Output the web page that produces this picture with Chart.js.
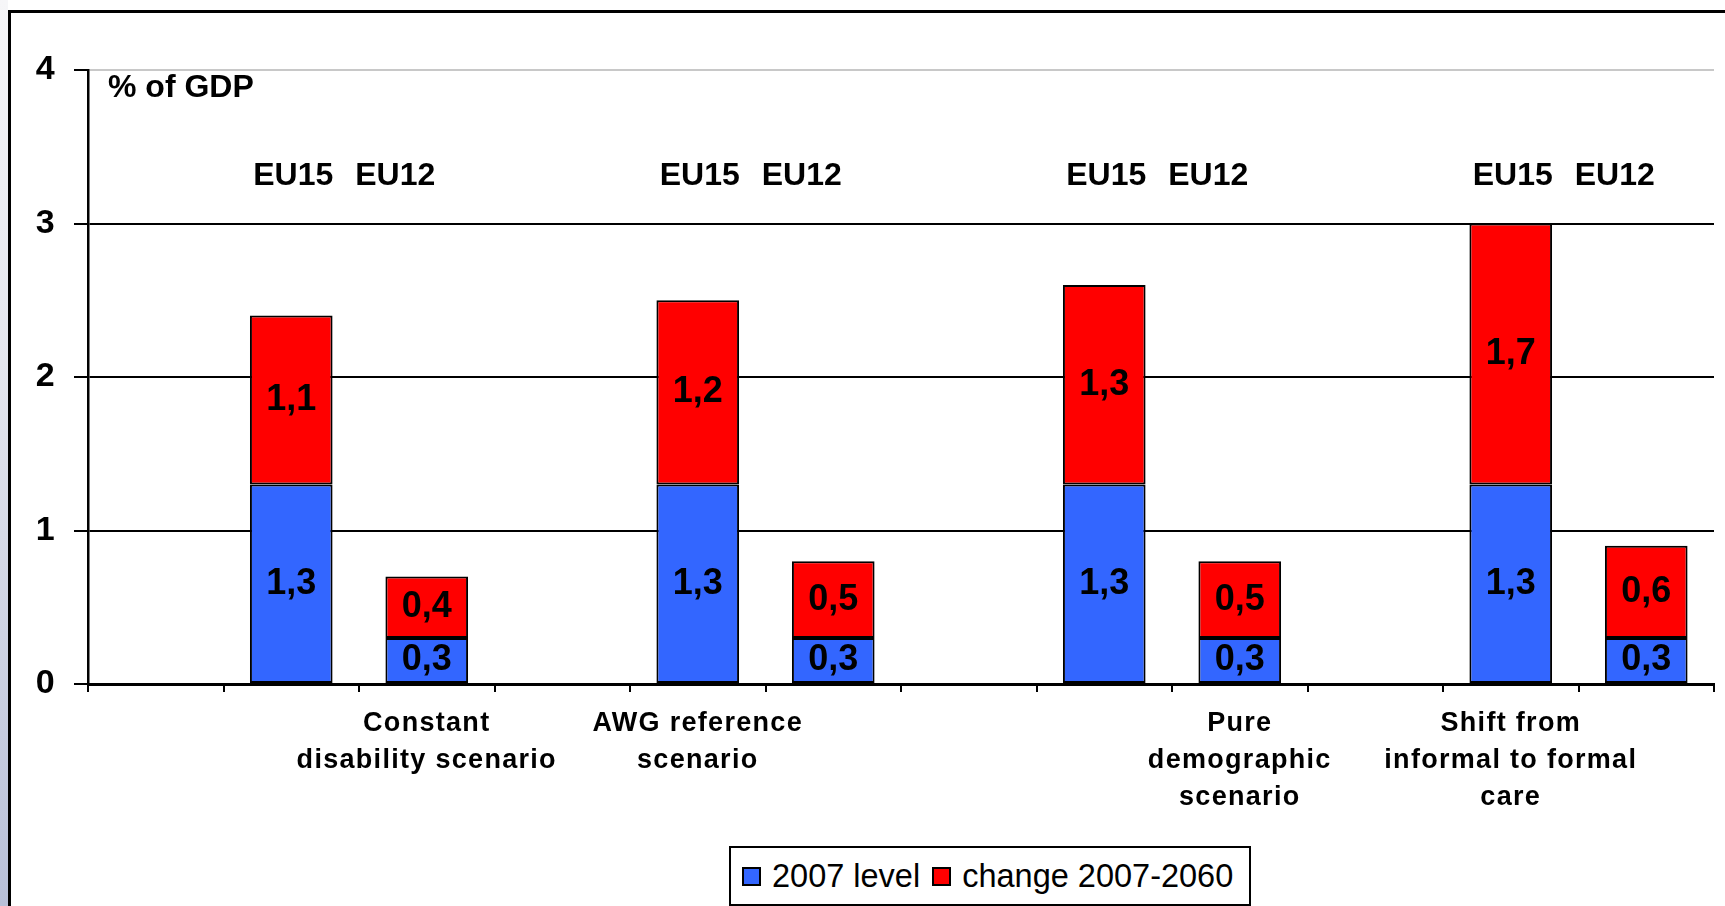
<!DOCTYPE html>
<html>
<head>
<meta charset="utf-8">
<script src="https://cdn.jsdelivr.net/npm/chart.js@4/dist/chart.umd.min.js"></script>
<style>
  html, body { margin:0; padding:0; background:#fff; width:1725px; height:906px; overflow:hidden; }
  #strip { position:absolute; left:0; top:0; width:8px; height:906px;
           background:linear-gradient(to bottom, #f6f6f8 0%, #e4e6ee 40%, #b8c0d8 100%); }
  #frame { position:absolute; left:8px; top:10px; width:1730px; height:910px;
           border-left:3px solid #000; border-top:3px solid #000; box-sizing:border-box; }
  #wrap { position:absolute; left:0; top:0; width:1725px; height:906px; }
  #legend { position:absolute; left:729px; top:846px; width:522px; height:60px; box-sizing:border-box;
            border:2.5px solid #000; background:#fff; font-family:"Liberation Sans", Arial, sans-serif;
            font-size:32.5px; color:#000; display:flex; align-items:center; padding-left:11px; white-space:nowrap; }
  #legend .sw { display:inline-block; width:19px; height:19px; box-sizing:border-box; border:2px solid #000; margin-right:11px; }
  #legend .item { display:flex; align-items:center; margin-right:12px; }
</style>
</head>
<body>
<div id="strip"></div>
<div id="frame"></div>
<div id="wrap"><canvas id="c" width="1725" height="906"></canvas></div>
<div id="legend"></div>
<script>
// ---- data ----
const categories = ["", "", ["Constant", "disability scenario"], "", ["AWG reference", "scenario"], "", "",
                    "", ["Pure", "demographic", "scenario"], "", ["Shift from", "informal to formal", "care"], ""];
const level2007 = [null, 1.3, 0.3, null, 1.3, 0.3, null, 1.3, 0.3, null, 1.3, 0.3];
const change20072060 = [null, 1.1, 0.4, null, 1.2, 0.5, null, 1.3, 0.5, null, 1.7, 0.6];
const seriesNames = ["2007 level", "change 2007-2060"];
const eu15Index = [1, 4, 7, 10];
const groupLabels = ["EU15", "EU12"];
const yTicks = [0, 1, 2, 3, 4];
const unitLabel = "% of GDP";

const FONT = '"Liberation Sans", Arial, sans-serif';
const colors = ["#3366FF", "#FF0000"];

const spacingPlugin = {
  id: 'spacing',
  beforeDraw(chart) { chart.ctx.letterSpacing = '1.3px'; }
};

const labelPlugin = {
  id: 'labels',
  afterDatasetsDraw(chart) {
    const ctx = chart.ctx;
    ctx.save();
    ctx.letterSpacing = '0px';
    ctx.fillStyle = '#000';
    ctx.textAlign = 'center';
    ctx.textBaseline = 'alphabetic';
    ctx.font = 'bold 36px ' + FONT;
    chart.data.datasets.forEach((ds, di) => {
      const meta = chart.getDatasetMeta(di);
      meta.data.forEach((el, i) => {
        const v = ds.data[i];
        if (v == null) return;
        const cy = (el.y + el.base) / 2;
        ctx.fillText(v.toFixed(1).replace('.', ','), el.x, cy + 10);
      });
    });
    // group labels
    const xs = chart.scales.x;
    const area = chart.chartArea;
    ctx.font = 'bold 32px ' + FONT;
    eu15Index.forEach(idx => {
      const px = xs.getPixelForValue(idx);
      ctx.fillText(groupLabels[0], px + 2, area.top + 115);
      ctx.fillText(groupLabels[1], px + 104, area.top + 115);
    });
    // unit label
    ctx.textAlign = 'left';
    ctx.font = 'bold 32px ' + FONT;
    ctx.fillText(unitLabel, area.left + 20, area.top + 27);
    ctx.restore();
  }
};

const chart = new Chart(document.getElementById('c'), {
  type: 'bar',
  data: {
    labels: categories,
    datasets: [
      { label: seriesNames[0], data: level2007, backgroundColor: colors[0], borderColor: '#000', borderWidth: 2, borderSkipped: false },
      { label: seriesNames[1], data: change20072060, backgroundColor: colors[1], borderColor: '#000', borderWidth: 2, borderSkipped: false }
    ]
  },
  options: {
    responsive: false,
    animation: false,
    layout: { padding: { left: 0, top: 70, right: 11, bottom: 0 } },
    plugins: { legend: { display: false }, tooltip: { enabled: false } },
    datasets: { bar: { categoryPercentage: 1, barPercentage: 0.61 } },
    scales: {
      x: {
        stacked: true,
        afterFit(s) { s.height = 222; },
        grid: { display: true, drawOnChartArea: false, drawTicks: true, tickLength: 8, color: '#000', lineWidth: 2, offset: true },
        border: { display: true, color: '#000', width: 3 },
        ticks: { autoSkip: false, maxRotation: 0, minRotation: 0, color: '#000', padding: 13,
                 font: { family: FONT, size: 27, weight: 'bold', lineHeight: 37 / 27 } }
      },
      y: {
        stacked: true,
        min: 0, max: 4,
        afterFit(s) { s.width = 88; },
        afterBuildTicks(s) { s.ticks = yTicks.map(v => ({ value: v })); },
        grid: { color: c => (c.tick && c.tick.value === 4 ? '#c8c8c8' : '#000'), lineWidth: 2, tickLength: 14, tickColor: '#000' },
        border: { display: true, color: '#000', width: 2.5 },
        ticks: { color: '#000', padding: 18, font: { family: FONT, size: 34, weight: 'bold' } }
      }
    }
  },
  plugins: [spacingPlugin, labelPlugin]
});

// legend from datasets
const leg = document.getElementById('legend');
chart.data.datasets.forEach(ds => {
  const it = document.createElement('span');
  it.className = 'item';
  const sw = document.createElement('span');
  sw.className = 'sw';
  sw.style.background = ds.backgroundColor;
  it.appendChild(sw);
  it.appendChild(document.createTextNode(ds.label));
  leg.appendChild(it);
});
</script>
</body>
</html>
